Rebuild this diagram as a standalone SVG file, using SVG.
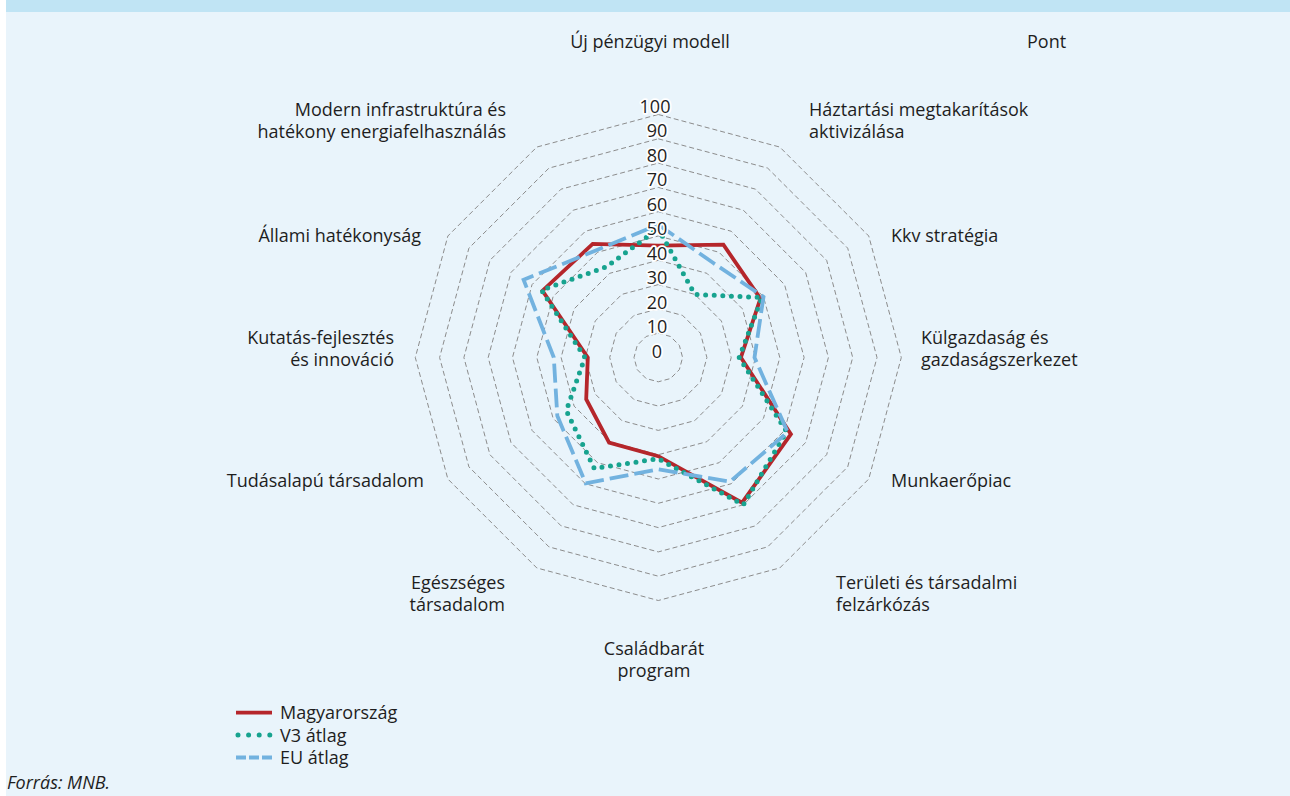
<svg xmlns="http://www.w3.org/2000/svg" width="1290" height="796" viewBox="0 0 1290 796">
<style>
  text { font-family: "Open Sans", "Liberation Sans", sans-serif; font-size: 18px; fill: #1e1e1e; }
  .ring { fill: none; stroke: #8c8c8c; stroke-width: 1; stroke-dasharray: 5 3; }
  .tick { text-anchor: middle; stroke: #ffffff; stroke-width: 3.5; stroke-linejoin: round; paint-order: stroke; }
  .end { text-anchor: end; }
  .mid { text-anchor: middle; }
  .hu { fill: none; stroke: #b5262b; stroke-width: 3.8; stroke-linejoin: miter; }
  .v3 { fill: none; stroke: #17a38f; stroke-width: 5; stroke-linecap: round; stroke-dasharray: 0 8.6; }
  .eu { fill: none; stroke: #72b2df; stroke-width: 3.8; stroke-dasharray: 19 6; }
</style>
<g id="background">
  <rect x="0" y="0" width="1290" height="796" fill="#ffffff"/>
  <rect x="6" y="12" width="1284" height="784" fill="#e9f4fb"/>
  <rect x="6" y="0" width="1284" height="12" fill="#c0e4f4"/>
</g>
<g id="grid" transform="translate(658.3,357.5)">
  <polygon class="ring" points="0,-24.3 12.15,-21.04 21.04,-12.15 24.3,0 21.04,12.15 12.15,21.04 0,24.3 -12.15,21.04 -21.04,12.15 -24.3,0 -21.04,-12.15 -12.15,-21.04"/>
  <polygon class="ring" points="0,-48.6 24.3,-42.09 42.09,-24.3 48.6,0 42.09,24.3 24.3,42.09 0,48.6 -24.3,42.09 -42.09,24.3 -48.6,0 -42.09,-24.3 -24.3,-42.09"/>
  <polygon class="ring" points="0,-72.9 36.45,-63.13 63.13,-36.45 72.9,0 63.13,36.45 36.45,63.13 0,72.9 -36.45,63.13 -63.13,36.45 -72.9,0 -63.13,-36.45 -36.45,-63.13"/>
  <polygon class="ring" points="0,-97.2 48.6,-84.18 84.18,-48.6 97.2,0 84.18,48.6 48.6,84.18 0,97.2 -48.6,84.18 -84.18,48.6 -97.2,0 -84.18,-48.6 -48.6,-84.18"/>
  <polygon class="ring" points="0,-121.5 60.75,-105.22 105.22,-60.75 121.5,0 105.22,60.75 60.75,105.22 0,121.5 -60.75,105.22 -105.22,60.75 -121.5,0 -105.22,-60.75 -60.75,-105.22"/>
  <polygon class="ring" points="0,-145.8 72.9,-126.26 126.26,-72.9 145.8,0 126.26,72.9 72.9,126.26 0,145.8 -72.9,126.26 -126.26,72.9 -145.8,0 -126.26,-72.9 -72.9,-126.26"/>
  <polygon class="ring" points="0,-170.1 85.05,-147.31 147.31,-85.05 170.1,0 147.31,85.05 85.05,147.31 0,170.1 -85.05,147.31 -147.31,85.05 -170.1,0 -147.31,-85.05 -85.05,-147.31"/>
  <polygon class="ring" points="0,-194.4 97.2,-168.35 168.35,-97.2 194.4,0 168.35,97.2 97.2,168.35 0,194.4 -97.2,168.35 -168.35,97.2 -194.4,0 -168.35,-97.2 -97.2,-168.35"/>
  <polygon class="ring" points="0,-218.7 109.35,-189.39 189.39,-109.35 218.7,0 189.39,109.35 109.35,189.39 0,218.7 -109.35,189.39 -189.39,109.35 -218.7,0 -189.39,-109.35 -109.35,-189.39"/>
  <polygon class="ring" points="0,-243 121.5,-210.44 210.44,-121.5 243,0 210.44,121.5 121.5,210.44 0,243 -121.5,210.44 -210.44,121.5 -243,0 -210.44,-121.5 -121.5,-210.44"/>
</g>
<g id="series">
  <polygon id="series-hu" class="hu" points="658.3,245.7 723.4,244.7 760.4,298.6 740.9,357.5 790.9,434.1 742.1,502.7 658.3,456.2 609.1,442.7 586.2,399.2 587.8,357.5 542.5,290.7 592.7,243.9"/>
  <polygon id="series-v3" class="v3" points="658.3,228.7 694.8,294.4 762.0,297.6 739.2,357.5 786.6,431.6 743.4,504.8 658.3,458.8 594.3,468.4 566.3,410.6 584.9,357.5 541.5,290.1 606.1,267.0"/>
  <polygon id="series-eu" class="eu" points="658.3,224.6 713.0,262.8 763.5,296.8 754.5,357.5 787.7,432.2 730.0,481.7 658.3,469.3 585.7,483.3 557.3,415.8 553.8,357.5 523.6,279.8 596.4,250.2"/>
</g>
<g id="tick-labels">
  <text class="tick" x="657" y="357.5">0</text>
  <text class="tick" x="657" y="333">10</text>
  <text class="tick" x="657" y="308.5">20</text>
  <text class="tick" x="657" y="284">30</text>
  <text class="tick" x="657" y="259.5">40</text>
  <text class="tick" x="657" y="235">50</text>
  <text class="tick" x="657" y="210.5">60</text>
  <text class="tick" x="657" y="186">70</text>
  <text class="tick" x="657" y="161.5">80</text>
  <text class="tick" x="657" y="137">90</text>
  <text class="tick" x="655" y="112.5">100</text>
</g>
<g id="unit-label"><text x="1027" y="48">Pont</text></g>
<g id="axis-uj-penzugyi-modell"><text class="mid" x="650" y="48">Új pénzügyi modell</text></g>
<g id="axis-haztartasi"><text x="809" y="116">Háztartási megtakarítások</text><text x="809" y="138">aktivizálása</text></g>
<g id="axis-kkv"><text x="891" y="242">Kkv stratégia</text></g>
<g id="axis-kulgazdasag"><text x="921" y="344">Külgazdaság és</text><text x="921" y="366">gazdaságszerkezet</text></g>
<g id="axis-munkaeropiac"><text x="891" y="487">Munkaerőpiac</text></g>
<g id="axis-teruleti"><text x="836" y="589">Területi és társadalmi</text><text x="836" y="611">felzárkózás</text></g>
<g id="axis-csaladbarat"><text class="mid" x="654" y="655">Családbarát</text><text class="mid" x="654" y="677">program</text></g>
<g id="axis-egeszseges"><text class="end" x="505" y="589">Egészséges</text><text class="end" x="505" y="611">társadalom</text></g>
<g id="axis-tudasalapu"><text class="end" x="424" y="487">Tudásalapú társadalom</text></g>
<g id="axis-kutatas"><text class="end" x="394" y="344">Kutatás-fejlesztés</text><text class="end" x="394" y="366">és innováció</text></g>
<g id="axis-allami"><text class="end" x="421" y="242">Állami hatékonyság</text></g>
<g id="axis-modern"><text class="end" x="506" y="116">Modern infrastruktúra és</text><text class="end" x="506" y="138">hatékony energiafelhasználás</text></g>
<g id="legend">
  <line class="hu" x1="236" y1="712.7" x2="272" y2="712.7"/>
  <text x="280" y="719">Magyarország</text>
  <line class="v3" x1="238" y1="735" x2="270" y2="735" style="stroke-dasharray:0 10.6"/>
  <text x="280" y="741.5">V3 átlag</text>
  <line class="eu" x1="236" y1="757.5" x2="272" y2="757.5" style="stroke-dasharray:10 3"/>
  <text x="280" y="764">EU átlag</text>
</g>
<g id="source"><text x="7" y="789" font-style="italic">Forrás: MNB.</text></g>
</svg>
